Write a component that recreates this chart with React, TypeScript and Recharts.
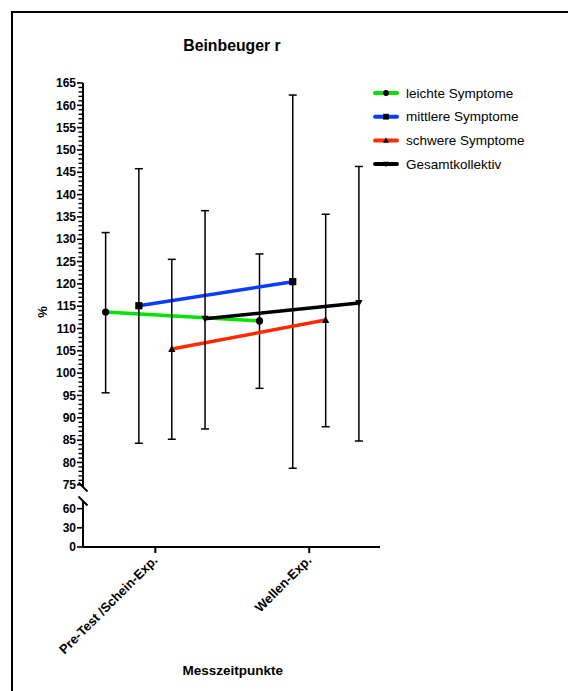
import React from "react";
import { LineChart, Line, XAxis, YAxis, ErrorBar, Legend } from "recharts";

const categories = ["Pre-Test /Schein-Exp.", "Wellen-Exp."];

// means with lower / upper ends of the error bars (%)
const leichteMean = [113.7, 111.7];
const leichteLower = [95.6, 96.6];
const leichteUpper = [131.5, 126.7];

const mittlereMean = [115.1, 120.5];
const mittlereLower = [84.3, 78.7];
const mittlereUpper = [145.8, 162.3];

const schwereMean = [105.4, 111.9];
const schwereLower = [85.2, 88.0];
const schwereUpper = [125.5, 135.6];

const gesamtMean = [112.2, 115.7];
const gesamtLower = [87.5, 84.8];
const gesamtUpper = [136.4, 146.3];

const topTicks = [74.5, ...Array.from({ length: 91 }, (_, i) => 75 + i)];
const bottomTicks = [0, 30, 60, 72];

const FONT = "'Liberation Sans', Arial, Helvetica, sans-serif";

type Shape = "circle" | "square" | "triangle" | "triangleDown";

const buildRows = (mean: number[], lower: number[], upper: number[], offset: number) =>
  mean.map((m, i) => ({
    x: i + 1 + offset,
    y: m,
    err: [m - lower[i], upper[i] - m],
  }));

const series = [
  { name: "leichte Symptome", color: "#00e400", shape: "circle" as Shape, rows: buildRows(leichteMean, leichteLower, leichteUpper, -0.323) },
  { name: "mittlere Symptome", color: "#0a3cff", shape: "square" as Shape, rows: buildRows(mittlereMean, mittlereLower, mittlereUpper, -0.107) },
  { name: "schwere Symptome", color: "#ff2a00", shape: "triangle" as Shape, rows: buildRows(schwereMean, schwereLower, schwereUpper, 0.107) },
  { name: "Gesamtkollektiv", color: "#000000", shape: "triangleDown" as Shape, rows: buildRows(gesamtMean, gesamtLower, gesamtUpper, 0.323) },
];

function Marker({ cx, cy, shape, s = 1 }: { cx: number; cy: number; shape: Shape; s?: number }) {
  if (cx == null || cy == null) return null;
  if (shape === "circle") return <circle cx={cx} cy={cy} r={3.6 * s} fill="#000" />;
  if (shape === "square")
    return <rect x={cx - 3.6 * s} y={cy - 3.6 * s} width={7.2 * s} height={7.2 * s} fill="#000" />;
  if (shape === "triangle")
    return (
      <polygon
        points={`${cx},${cy - 4 * s} ${cx - 3.6 * s},${cy + 3 * s} ${cx + 3.6 * s},${cy + 3 * s}`}
        fill="#000"
      />
    );
  return (
    <polygon
      points={`${cx - 3.6 * s},${cy - 3 * s} ${cx + 3.6 * s},${cy - 3 * s} ${cx},${cy + 4 * s}`}
      fill="#000"
    />
  );
}

const TopTick = (props: any) => {
  const { x, y, payload } = props;
  const v = payload.value;
  if (v === 74.5) {
    return <line x1={x - 4.5} y1={y - 4.5} x2={x + 4.5} y2={y + 4.5} stroke="#000" strokeWidth={2} />;
  }
  const major = v % 5 === 0;
  return (
    <g>
      <line x1={x - (major ? 6 : 4.5)} y1={y} x2={x} y2={y} stroke="#000" strokeWidth={major ? 1.6 : 1.4} />
      {major && (
        <text x={x - 7} y={y} dy="0.35em" textAnchor="end" fontFamily={FONT} fontSize={12} fontWeight="bold" fill="#000">
          {v}
        </text>
      )}
    </g>
  );
};

const BottomTick = (props: any) => {
  const { x, y, payload } = props;
  const v = payload.value;
  if (v === 72) {
    return <line x1={x - 4.5} y1={y - 4.5} x2={x + 4.5} y2={y + 4.5} stroke="#000" strokeWidth={2} />;
  }
  return (
    <g>
      <line x1={x - 6} y1={y} x2={x} y2={y} stroke="#000" strokeWidth={1.6} />
      <text x={x - 7} y={y} dy="0.35em" textAnchor="end" fontFamily={FONT} fontSize={12} fontWeight="bold" fill="#000">
        {v}
      </text>
    </g>
  );
};

const XTick = (props: any) => {
  const { x, y, payload } = props;
  const label = categories[Math.round(payload.value) - 1];
  return (
    <text
      transform={`translate(${x + 3},${y + 8}) rotate(-45)`}
      textAnchor="end"
      fontFamily={FONT}
      fontSize={13}
      fontWeight="bold"
      fill="#000"
    >
      {label}
    </text>
  );
};

const LegendContent = () => (
  <svg width={190} height={100}>
    {series.map((s, i) => {
      const cy = 13 + i * 23.7;
      return (
        <g key={s.name}>
          <line x1={5} y1={cy} x2={27} y2={cy} stroke={s.color} strokeWidth={4} strokeLinecap="round" />
          <Marker cx={16} cy={cy} shape={s.shape} s={0.8} />
          <text x={36} y={cy + 4.7} fontFamily={FONT} fontSize={13.5} fill="#000">
            {s.name}
          </text>
        </g>
      );
    })}
  </svg>
);

export default function App() {
  return (
    <div style={{ position: "absolute", left: 0, top: 0, width: 568, height: 691, background: "#fff", overflow: "hidden" }}>
      <div
        style={{
          position: "absolute",
          left: 11,
          top: 11,
          width: 557,
          height: 680,
          borderTop: "2px solid #000",
          borderLeft: "2px solid #000",
          boxSizing: "border-box",
        }}
      />
      <div style={{ position: "absolute", left: 0, top: 0 }}>
        <LineChart width={568} height={500} margin={{ top: 83, right: 188, bottom: 13, left: 0 }}>
          <XAxis type="number" dataKey="x" domain={[0.53, 2.46]} hide allowDataOverflow />
          <YAxis
            type="number"
            domain={[74.5, 165]}
            ticks={topTicks}
            interval={0}
            width={83}
            allowDataOverflow
            axisLine={{ stroke: "#000", strokeWidth: 2 }}
            tickLine={false}
            tickSize={0}
            tickMargin={0}
            tick={TopTick}
          />
          {series.map((s) => (
            <Line
              key={s.name}
              data={s.rows}
              dataKey="y"
              name={s.name}
              stroke={s.color}
              strokeWidth={3.5}
              isAnimationActive={false}
              activeDot={false}
              dot={(p: any) => <Marker key={`${s.name}-${p.index}`} cx={p.cx} cy={p.cy} shape={s.shape} />}
            >
              <ErrorBar dataKey="err" direction="y" width={4} stroke="#000" strokeWidth={1.5} isAnimationActive={false} />
            </Line>
          ))}
          <Legend
            layout="horizontal"
            verticalAlign="middle"
            content={LegendContent}
            wrapperStyle={{ left: 370, top: 80, width: 190, height: 100 }}
          />
        </LineChart>
      </div>
      <div style={{ position: "absolute", left: 0, top: 0 }}>
        <LineChart
          width={568}
          height={691}
          data={categories.map((c, i) => ({ x: i + 1, name: c }))}
          margin={{ top: 501, right: 188, bottom: 44, left: 0 }}
        >
          <XAxis
            type="number"
            dataKey="x"
            domain={[0.53, 2.46]}
            ticks={[1, 2]}
            interval={0}
            height={100}
            allowDataOverflow
            axisLine={{ stroke: "#000", strokeWidth: 2 }}
            tickLine={{ stroke: "#000", strokeWidth: 2 }}
            tickSize={6}
            tickMargin={0}
            tick={XTick}
          />
          <YAxis
            type="number"
            domain={[0, 72]}
            ticks={bottomTicks}
            interval={0}
            width={83}
            allowDataOverflow
            axisLine={{ stroke: "#000", strokeWidth: 2 }}
            tickLine={false}
            tickSize={0}
            tickMargin={0}
            tick={BottomTick}
          />
          <Line dataKey="y" stroke="none" dot={false} activeDot={false} isAnimationActive={false} />
        </LineChart>
      </div>
      <svg width={568} height={691} style={{ position: "absolute", left: 0, top: 0, pointerEvents: "none" }}>
        <text x={232} y={51} textAnchor="middle" fontFamily={FONT} fontSize={15.8} fontWeight="bold">
          Beinbeuger r
        </text>
        <text transform="translate(46.5,312) rotate(-90)" textAnchor="middle" fontFamily={FONT} fontSize={13} fontWeight="bold">
          %
        </text>
        <text x={232.7} y={674.7} textAnchor="middle" fontFamily={FONT} fontSize={13.5} fontWeight="bold">
          Messzeitpunkte
        </text>
      </svg>
    </div>
  );
}
